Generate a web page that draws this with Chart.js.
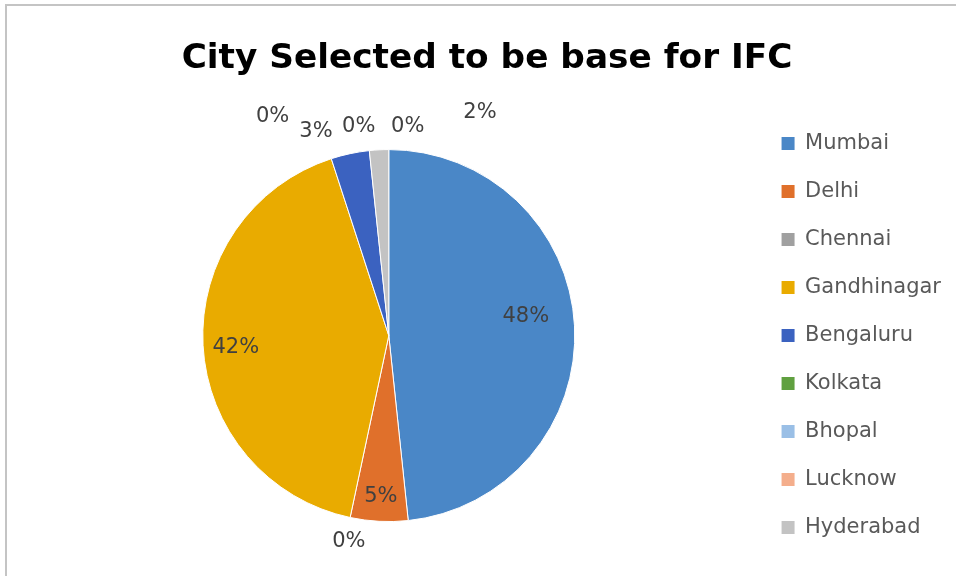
<!DOCTYPE html>
<html>
<head>
<meta charset="utf-8">
<script src="https://cdn.jsdelivr.net/npm/chart.js@4/dist/chart.umd.min.js"></script>
<style>
  html, body { margin: 0; padding: 0; background: #ffffff; }
  #wrap { width: 956px; height: 576px; position: relative; }
</style>
</head>
<body>
<div id="wrap"><canvas id="c" width="956" height="576"></canvas></div>
<script>
// ---- data ----
const chartTitle = "City Selected to be base for IFC";
const cities = ["Mumbai", "Delhi", "Chennai", "Gandhinagar", "Bengaluru", "Kolkata", "Bhopal", "Lucknow", "Hyderabad"];
const responses = [29, 3, 0, 25, 2, 0, 0, 0, 1];

// ---- style ----
const sliceColors = ["#4A87C7", "#E0702B", "#A0A0A0", "#E9AB00", "#3B62C0", "#60A040", "#9ABFE6", "#F4AE8C", "#C3C3C3"];
// label placement: [angle shift in degrees (clockwise), distance as fraction of radius]
const labelPlacement = [[-5.1, 0.744], [-0.15, 0.864], [-1, 1.126], [-1.3, 0.825], [-7.6, 1.167], [-21.9, 1.335], [-2.15, 1.138], [11.2, 1.126], [25.2, 1.297]];

const total = responses.reduce((a, b) => a + b, 0);

const pctLabels = {
  id: 'pctLabels',
  afterDatasetsDraw(chart) {
    const ctx = chart.ctx;
    const meta = chart.getDatasetMeta(0);
    ctx.save();
    ctx.font = '21px "DejaVu Sans"';
    ctx.fillStyle = '#404040';
    ctx.textAlign = 'center';
    ctx.textBaseline = 'middle';
    meta.data.forEach((arc, i) => {
      const p = arc.getProps(['x', 'y', 'startAngle', 'endAngle', 'outerRadius'], true);
      const mid = (p.startAngle + p.endAngle) / 2 + labelPlacement[i][0] * Math.PI / 180;
      const d = p.outerRadius * labelPlacement[i][1];
      const txt = Math.round(responses[i] / total * 100) + '%';
      ctx.fillText(txt, p.x + Math.cos(mid) * d, p.y + Math.sin(mid) * d);
    });
    ctx.restore();
  }
};

const frame = {
  id: 'frame',
  beforeDraw(chart) {
    const ctx = chart.ctx;
    ctx.save();
    ctx.fillStyle = '#ffffff';
    ctx.fillRect(0, 0, chart.width, chart.height);
    ctx.strokeStyle = '#c4c4c4';
    ctx.lineWidth = 2;
    ctx.beginPath();
    ctx.moveTo(6, chart.height);
    ctx.lineTo(6, 5);
    ctx.lineTo(chart.width, 5);
    ctx.stroke();
    ctx.restore();
  }
};

new Chart(document.getElementById('c'), {
  type: 'pie',
  data: {
    labels: cities,
    datasets: [{
      data: responses,
      backgroundColor: sliceColors,
      borderColor: '#ffffff',
      borderWidth: (c) => (responses[c.dataIndex] === 0 ? 0 : 1),
      hoverOffset: 0
    }]
  },
  options: {
    responsive: false,
    animation: false,
    radius: 186,
    layout: { padding: { top: 0, left: 23, right: 5, bottom: 0 } },
    plugins: {
      title: {
        display: true,
        text: chartTitle,
        color: '#000000',
        font: { family: '"DejaVu Sans"', size: 34.3, weight: 'bold', lineHeight: 1.2 },
        padding: { top: 39, bottom: 15 }
      },
      legend: {
        display: true,
        position: 'right',
        align: 'center',
        fullSize: false,
        labels: {
          color: '#595959',
          font: { family: '"DejaVu Sans"', size: 21 },
          boxWidth: 13,
          boxHeight: 13,
          padding: 27,
          generateLabels(chart) {
            const items = Chart.overrides.pie.plugins.legend.labels.generateLabels(chart);
            items.forEach(it => { it.lineWidth = 0; it.strokeStyle = it.fillStyle; });
            return items;
          }
        }
      },
      tooltip: { enabled: false }
    }
  },
  plugins: [frame, pctLabels]
});
</script>
</body>
</html>
